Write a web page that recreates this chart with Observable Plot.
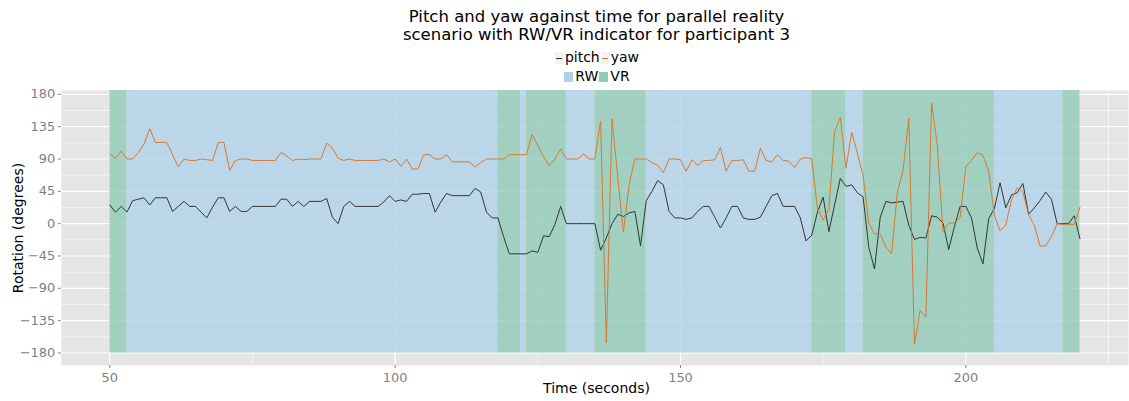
<!DOCTYPE html>
<html><head><meta charset="utf-8">
<script src="https://cdn.jsdelivr.net/npm/d3@7"></script>
<script src="https://cdn.jsdelivr.net/npm/@observablehq/plot@0.6"></script>
<style>
body{margin:0;width:1129px;height:401px;overflow:hidden;background:#fff;font-family:"DejaVu Sans",sans-serif;position:relative}
#title{position:absolute;left:61px;width:1071px;top:8px;text-align:center;font-size:16.5px;line-height:18px;color:#000}
.leg{position:absolute;left:61px;width:1071px;text-align:center;font-size:14px;line-height:16px;color:#000;white-space:nowrap}
#leg1{top:49px}#leg2{top:68px}
.key{display:inline-block;width:9px;height:12px;background:#f2f2f2;vertical-align:-2px;position:relative;margin:0 1px 0 1px}
.key i{position:absolute;left:1.5px;right:1.5px;top:5.5px;height:1.6px}
.sq{display:inline-block;width:9px;height:10px;vertical-align:-1px;margin:0 2px 0 1px}
#chart{position:absolute;left:0;top:80px}
#xlab{position:absolute;left:61px;width:1071px;top:380px;text-align:center;font-size:14px;color:#000}
#ylab{position:absolute;left:18px;top:228px;font-size:14px;color:#000;white-space:nowrap;transform:translate(-50%,-50%) rotate(-90deg)}
</style></head><body>
<div id="title">Pitch and yaw against time for parallel reality<br>scenario with RW/VR indicator for participant 3</div>
<div class="leg" id="leg1"></div>
<div class="leg" id="leg2"></div>
<div id="chart"></div>
<div id="xlab">Time (seconds)</div>
<div id="ylab">Rotation (degrees)</div>
<script>
// sample times (seconds)
const time = d3.range(50, 221);
// pitch (degrees), one value per second from 50 to 220
const pitch = [26,16,24,16,32,34,36,26,36,36,36,17,24,31,24,24,16,8,23,36,
36,17,24,17,17,24,24,24,24,24,34,34,24,31,24,31,31,31,35,9,
0,24,31,24,24,24,24,24,30,39,31,33,31,41,41,42,42,16,30,42,
39,39,39,39,49,44,16,8,8,-18,-42,-42,-42,-42,-38,-40,-17,-18,-1,24,
0,0,0,0,0,0,-37,-20,0,13,10,15,17,-31,32,45,60,54,17,8,
8,6,8,17,24,24,9,-6,8,24,24,8,6,6,9,24,39,42,24,24,
24,8,-24,-16,16,37,-11,26,63,52,54,43,37,-33,-63,9,31,29,30,31,
-2,-22,-19,-20,11,9,1,-36,-4,24,24,8,-34,-56,7,21,57,22,40,43,
56,13,22,32,44,34,0,0,0,11,-21];
// yaw (degrees)
const yaw = [97,91,101,90,90,99,111,132,113,113,113,96,79,90,88,88,90,89,88,113,
113,74,88,90,90,88,88,88,88,88,99,94,88,90,89,90,90,90,112,105,
91,88,90,88,88,88,88,88,90,86,90,80,90,76,76,96,96,90,90,96,
86,86,86,86,79,85,90,90,90,90,96,96,96,96,124,109,93,81,90,104,
90,90,90,97,90,90,143,-166,146,65,-12,54,90,90,90,85,81,71,90,90,
89,73,89,81,88,88,89,106,73,88,88,89,73,73,105,88,86,96,88,87,
78,90,92,90,21,5,20,128,148,77,127,98,67,1,-14,-14,-33,-42,44,74,
147,-168,-121,-130,168,109,-11,1,1,9,79,88,99,95,73,12,-10,-2,33,50,
44,12,-2,-31,-31,-18,0,-1,-1,-1,23];
// RW/VR indicator intervals
const bandStart = [50, 53, 118, 122, 123, 130, 135, 144, 173, 179, 182, 205, 217];
const bandEnd   = [53, 118, 122, 123, 130, 135, 144, 173, 179, 182, 205, 217, 220];
const bandState = ["VR","RW","VR","RW","VR","RW","VR","RW","VR","RW","VR","RW","VR"];
const bandBottom = -180;
const yTicks = [-180,-135,-90,-45,0,45,90,135,180];
const yMinor = [-157.5,-112.5,-67.5,-22.5,22.5,67.5,112.5,157.5];
const xTicks = [50,100,150,200];
const xMinor = [75,125,175,225];

const colors = {pitch: "#333333", yaw: "#d9782d", RW: "#afd2e8", VR: "#90cbb7"};

const series = [];
time.forEach((t,i)=>{series.push({t, v: pitch[i], s:"pitch"});});
time.forEach((t,i)=>{series.push({t, v: yaw[i], s:"yaw"});});
const bands = bandStart.map((s,i)=>({x1:s, x2:bandEnd[i], state:bandState[i]}));

const yDom = [-197.4, 185.4];
const chart = Plot.plot({
  width: 1133, height: 320,
  marginLeft: 61, marginRight: 1, marginTop: 10, marginBottom: 34,
  style: {fontFamily: "DejaVu Sans, sans-serif", fontSize: "13px", background: "transparent"},
  x: {domain: [41.5, 228.5]},
  y: {domain: yDom},
  marks: [
    Plot.frame({fill: "#e5e5e5", stroke: null}),
    Plot.gridY(yMinor, {stroke: "white", strokeOpacity: 1, strokeWidth: 0.6}),
    Plot.gridX(xMinor, {stroke: "white", strokeOpacity: 1, strokeWidth: 0.6}),
    Plot.gridY(yTicks, {stroke: "white", strokeOpacity: 1, strokeWidth: 1.2}),
    Plot.gridX(xTicks, {stroke: "white", strokeOpacity: 1, strokeWidth: 1.2}),
    Plot.rectY(bands, {x1: "x1", x2: "x2", y1: bandBottom, y2: yDom[1], fill: d => colors[d.state], fillOpacity: 0.8}),
    Plot.line(series.filter(d=>d.s==="pitch"), {x: "t", y: "v", stroke: colors.pitch, strokeWidth: 1}),
    Plot.line(series.filter(d=>d.s==="yaw"), {x: "t", y: "v", stroke: colors.yaw, strokeWidth: 1}),
    Plot.axisX(xTicks, {tickSize: 3, tickPadding: 4, color: "#7f7f7f", fontSize: 13, label: null}),
    Plot.axisY(yTicks, {tickSize: 3, tickPadding: 3, color: "#7f7f7f", fontSize: 13, label: null})
  ]
});
document.getElementById("chart").appendChild(chart);

document.getElementById("leg1").innerHTML =
  `<span class="key"><i style="background:${colors.pitch}"></i></span>pitch<span class="key"><i style="background:${colors.yaw}"></i></span>yaw`;
document.getElementById("leg2").innerHTML =
  `<span class="sq" style="background:${colors.RW}"></span>RW<span class="sq" style="background:${colors.VR}"></span>VR`;
</script>
</body></html>
